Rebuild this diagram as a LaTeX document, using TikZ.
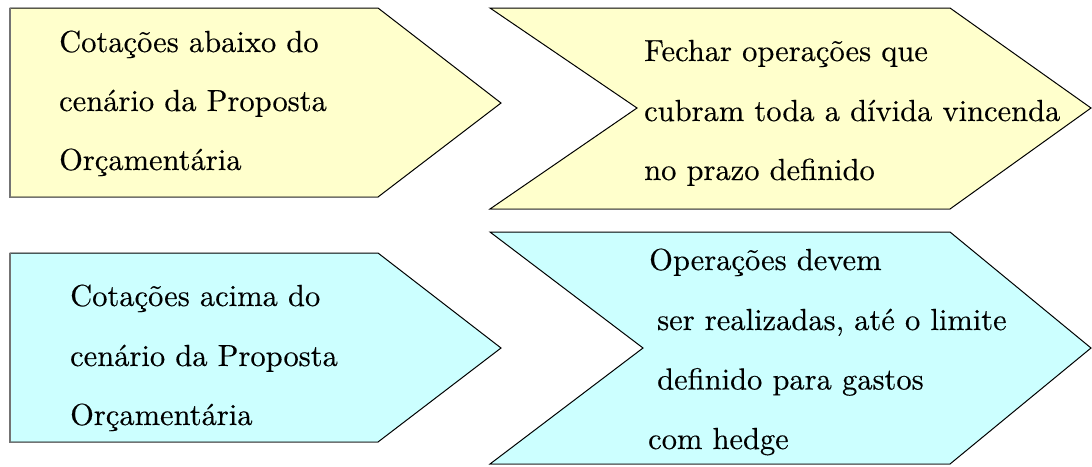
\documentclass[tikz,border=0pt]{standalone}
\usepackage{fontspec}
\newfontfamily\lmten{lmroman10-regular}[Extension=.otf, FakeBold=0.3]
\definecolor{paleyellow}{HTML}{FFFFCC}
\definecolor{palecyan}{HTML}{CCFFFF}
\tikzset{
  shapebox/.style={draw=black, line width=1pt, line join=miter},
  shadowline/.style={draw=black!55, line width=1.4pt},
  txt/.style={anchor=base west, inner sep=0pt, font=\lmten\fontsize{30.5}{38}\selectfont, text=black}
}
\begin{document}
\begin{tikzpicture}[x=1pt,y=-1pt]
\useasboundingbox (0,0) rectangle (1092,466);
% shapes
\draw[shapebox, fill=paleyellow] (10,8) -- (378,8) -- (501,103) -- (378,197) -- (10,197) -- cycle;
\draw[shapebox, fill=paleyellow] (490,8) -- (950,8) -- (1091,108) -- (950,209) -- (490,209) -- (637,108) -- cycle;
\draw[shapebox, fill=palecyan] (10,253) -- (378,253) -- (501,348) -- (378,442) -- (10,442) -- cycle;
\draw[shapebox, fill=palecyan] (490,232) -- (950,232) -- (1091,348) -- (950,464) -- (490,464) -- (643,348) -- cycle;
% darker bottom/left edges
\draw[shadowline] (10,8) -- (10,197.6) -- (378,197.6);
\draw[shadowline] (490,209.6) -- (950,209.6);
\draw[shadowline] (10,253) -- (10,442.6) -- (378,442.6);
\draw[shadowline] (490,464.6) -- (950,464.6);
% texts
\node[txt] (a1) at (59,52) {Cotações abaixo do};
\node[txt] (a2) at (59,111) {cenário da Proposta};
\node[txt] (a3) at (59,170) {Orçamentária};
\node[txt] (b1) at (644,61) {Fechar operações que};
\node[txt] (b2) at (644,121) {cubram toda a dívida vincenda};
\node[txt] (b3) at (644,180) {no prazo definido};
\node[txt] (c1) at (70,306) {Cotações acima do};
\node[txt] (c2) at (70,366) {cenário da Proposta};
\node[txt] (c3) at (70,425) {Orçamentária};
\node[txt] (d1) at (649,270) {Operações devem};
\node[txt] (d2) at (657,330) {ser realizadas, até o limite};
\node[txt] (d3) at (657,389.5) {definido para gastos};
\node[txt] (d4) at (648,449) {com hedge};
\end{tikzpicture}
\end{document}
